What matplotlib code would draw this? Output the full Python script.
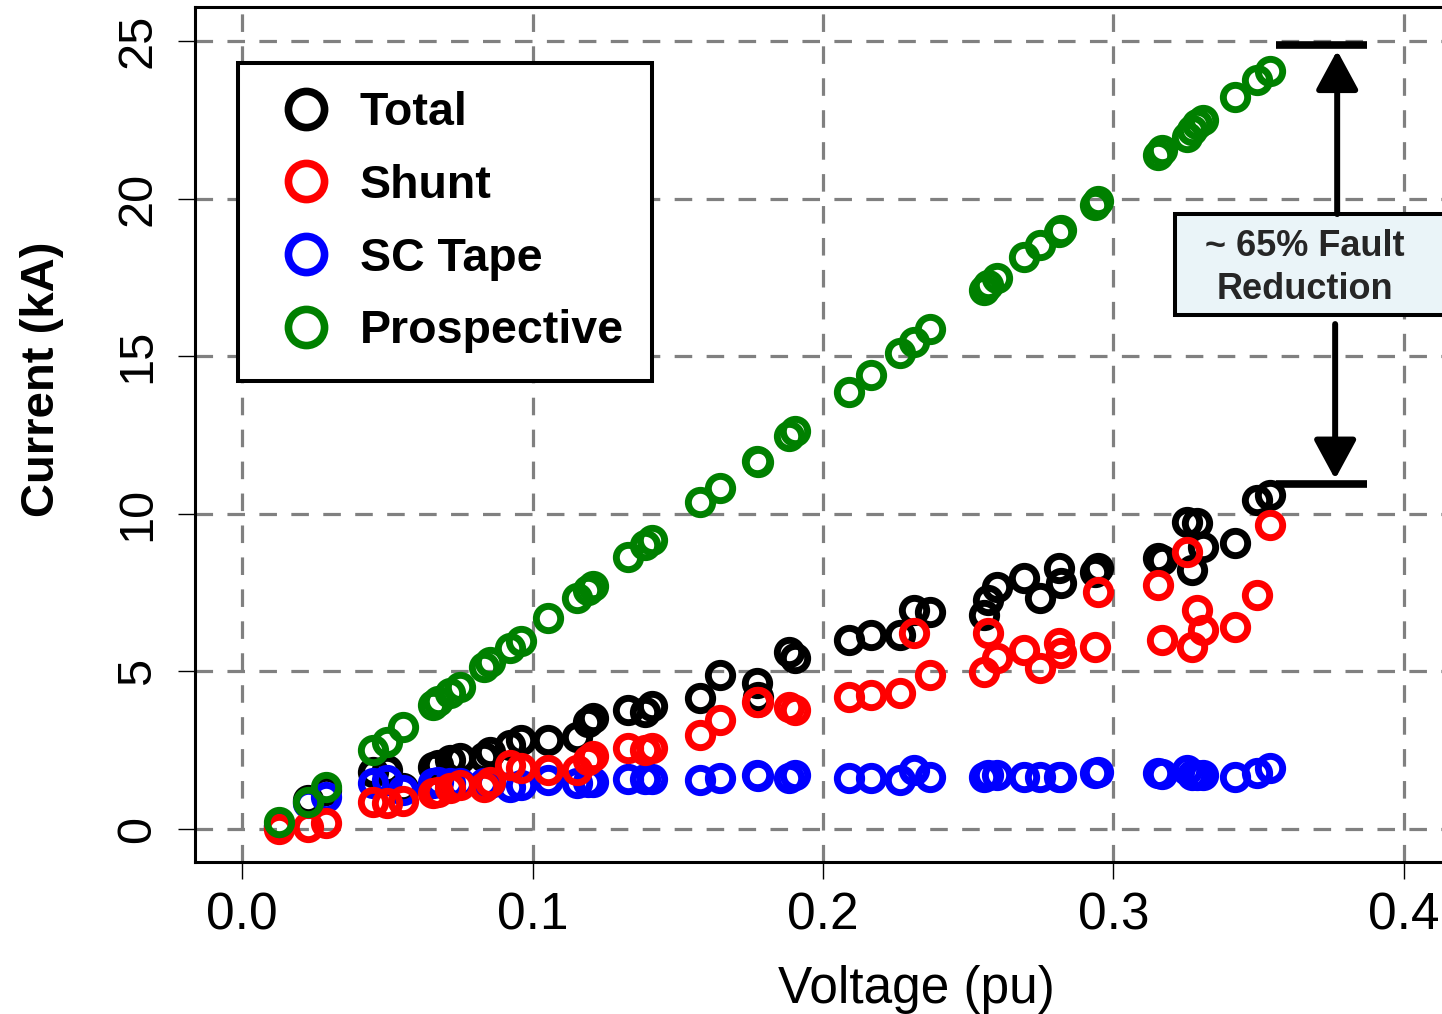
import matplotlib
matplotlib.use("Agg")
import matplotlib.pyplot as plt
from matplotlib.lines import Line2D
from matplotlib.patches import Rectangle

plt.rcParams["font.family"] = ["Liberation Sans", "DejaVu Sans"]

# values
voltage = [0.0127, 0.0227, 0.0289, 0.0451, 0.0499, 0.0554, 0.0657, 0.0675, 0.0716, 0.0750,
           0.0833, 0.0854, 0.0923, 0.0960, 0.1053, 0.1153, 0.1191, 0.1208, 0.1329, 0.1387,
           0.1411, 0.1577, 0.1645, 0.1773, 0.1776, 0.1883, 0.1904, 0.2090, 0.2165, 0.2265,
           0.2313, 0.2368, 0.2554, 0.2568, 0.2599, 0.2692, 0.2747, 0.2812, 0.2819, 0.2936,
           0.2947, 0.3153, 0.3167, 0.3253, 0.3270, 0.3287, 0.3308, 0.3418, 0.3494, 0.3539]
total = [0.10, 0.92, 1.24, 1.81, 1.87, 1.30, 1.97, 2.03, 2.19, 2.25,
         2.28, 2.44, 2.66, 2.82, 2.82, 2.92, 3.39, 3.52, 3.78, 3.71,
         3.90, 4.16, 4.89, 4.63, 4.19, 5.62, 5.43, 6.00, 6.15, 6.15,
         6.95, 6.88, 6.79, 7.27, 7.68, 7.96, 7.33, 8.28, 7.80, 8.15,
         8.28, 8.60, 8.53, 9.74, 8.22, 9.71, 8.95, 9.07, 10.44, 10.60]
shunt = [0.00, 0.06, 0.19, 0.86, 0.82, 0.89, 1.14, 1.17, 1.30, 1.40,
         1.33, 1.49, 2.03, 1.94, 1.87, 1.87, 2.19, 2.32, 2.57, 2.51,
         2.57, 2.98, 3.46, 4.03, 4.03, 3.87, 3.78, 4.19, 4.25, 4.31,
         6.22, 4.89, 4.98, 6.22, 5.43, 5.68, 5.11, 5.90, 5.58, 5.77,
         7.52, 7.74, 6.00, 8.79, 5.77, 6.95, 6.31, 6.41, 7.42, 9.64]
sc_tape = [0.10, 0.82, 1.02, 1.46, 1.55, 1.24, 1.46, 1.49, 1.46, 1.46,
           1.46, 1.46, 1.33, 1.40, 1.55, 1.46, 1.49, 1.49, 1.59, 1.59,
           1.59, 1.55, 1.62, 1.71, 1.68, 1.62, 1.71, 1.62, 1.62, 1.55,
           1.87, 1.65, 1.65, 1.71, 1.71, 1.65, 1.65, 1.65, 1.65, 1.78,
           1.81, 1.78, 1.74, 1.87, 1.71, 1.71, 1.71, 1.65, 1.78, 1.94]
prospective = [0.22, 0.86, 1.33, 2.51, 2.76, 3.24, 3.93, 4.06, 4.31, 4.51,
               5.14, 5.30, 5.74, 5.96, 6.69, 7.33, 7.58, 7.71, 8.63, 9.01,
               9.17, 10.37, 10.82, 11.68, 11.64, 12.47, 12.63, 13.86, 14.40, 15.10,
               15.45, 15.86, 17.10, 17.26, 17.48, 18.15, 18.53, 18.94, 19.00, 19.80,
               19.92, 21.38, 21.54, 21.95, 22.18, 22.37, 22.49, 23.22, 23.76, 24.05]

x_ticks = [0.0, 0.1, 0.2, 0.3, 0.4]
x_ticklabels = ["0.0", "0.1", "0.2", "0.3", "0.4"]
y_ticks = [0, 5, 10, 15, 20, 25]

legend_labels = ["Total", "Shunt", "SC Tape", "Prospective"]
colors = {"Total": "black", "Shunt": "#ff0000", "SC Tape": "#0000ff", "Prospective": "#008000"}
values = {"Total": total, "Shunt": shunt, "SC Tape": sc_tape, "Prospective": prospective}
draw_order = ["Total", "SC Tape", "Shunt", "Prospective"]

fig = plt.figure(figsize=(14.42, 10.14), dpi=100)
ax = fig.add_axes([0.13523, 0.14990, 0.87032, 0.84320])

for z, name in enumerate(draw_order):
    ax.plot(voltage, values[name], ls="none", marker="o", ms=17.5, mew=5,
            mfc="none", mec=colors[name], zorder=3 + z)

ax.set_xlim(-0.01618, 0.41584)
ax.set_ylim(-1.047, 26.08)
ax.set_xticks(x_ticks)
ax.set_xticklabels(x_ticklabels)
ax.set_yticks(y_ticks)
ax.tick_params(axis="both", direction="out", length=12, width=1.0, color="black")
ax.tick_params(axis="x", labelsize=37, pad=9)
ax.tick_params(axis="y", labelsize=35, pad=13, labelrotation=90)
for lab in ax.get_yticklabels():
    lab.set_va("center")

ax.grid(True, color="#808080", lw=2.3, ls=(0, (5.5, 4.5)))
ax.set_axisbelow(True)
for side in ["left", "bottom", "top"]:
    ax.spines[side].set_linewidth(2.2)
ax.spines["right"].set_visible(False)

ax.set_xlabel("Voltage (pu)", fontsize=37)
ax.xaxis.set_label_coords(0.575, -0.121)
ax.set_ylabel("Current (kA)", fontsize=34, fontweight="bold")
ax.yaxis.set_label_coords(-0.104, 0.565)

handles = [Line2D([], [], ls="none", marker="o", ms=26, mew=5.5, mfc="none",
                  mec=colors[name]) for name in legend_labels]
leg = ax.legend(handles, legend_labels, loc="upper left", bbox_to_anchor=(0.0343, 0.9345),
                borderaxespad=0, fancybox=False, framealpha=1, edgecolor="black",
                prop={"size": 33.5, "weight": "bold"}, borderpad=0.6, handlelength=1.72,
                handletextpad=0.3, labelspacing=0.62)
leg.get_frame().set_linewidth(2.9)
leg.set_zorder(10)

# annotation: fault reduction call-out
box_x0, box_y0, box_w, box_h = 0.3212, 16.31, 0.097, 3.20
ax.add_patch(Rectangle((box_x0, box_y0), box_w, box_h, facecolor="#eaf4f8",
                       edgecolor="black", lw=2.9, zorder=11, clip_on=False))
ax.text(0.3659, 17.80, "~ 65% Fault\nReduction", ha="center", va="center",
        fontsize=26, fontweight="bold", color="#262626", linespacing=1.3, zorder=12)

bar_x0, bar_x1 = 0.3559, 0.3874
top_bar, low_bar = 24.87, 10.95
ax.plot([bar_x0, bar_x1], [top_bar, top_bar], color="black", lw=5.5, zorder=12,
        solid_capstyle="butt", clip_on=False)
ax.plot([bar_x0, bar_x1], [low_bar, low_bar], color="black", lw=5.5, zorder=12,
        solid_capstyle="butt", clip_on=False)
arrow_style = dict(arrowstyle="-|>,head_length=2.4,head_width=1.3", color="black",
                   lw=4.3, shrinkA=0, shrinkB=0)
ax.annotate("", xy=(0.3770, 24.70), xytext=(0.3770, 19.51), arrowprops=arrow_style, zorder=12)
ax.annotate("", xy=(0.3763, 11.10), xytext=(0.3763, 16.02), arrowprops=arrow_style, zorder=12)

fig.savefig("out.png", dpi=100)
